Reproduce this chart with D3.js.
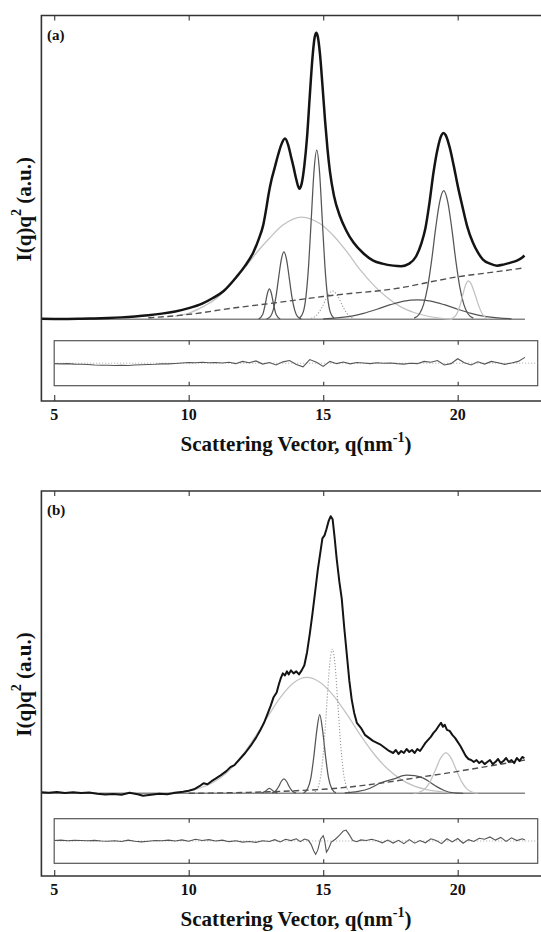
<!DOCTYPE html>
<html>
<head>
<meta charset="utf-8">
<script src="https://cdn.jsdelivr.net/npm/d3@7"></script>
<style>
  body { margin: 0; background: #fff; }
  svg { display: block; }
  text { font-family: "Liberation Serif", "Times New Roman", serif; font-weight: bold; fill: #111; }
</style>
</head>
<body>
<script>
// q axis ticks
const tickValues = [5, 10, 15, 20];
const residTicks = [10, 15, 20];
const panelNames = ["(a)", "(b)"];

// ---- panel (a): measured I(q)q^2 and fitted components, [q, intensity]
const measuredA = [[4.52,0.5],[5,0.4],[5.5,0.4],[6,0.6],[6.5,0.9],[7,1.3],[7.5,1.9],[8,2.8],[8.5,4],[9,5.6],[9.5,7.8],[10,11],[10.5,15.5],[10.9,21],[11.3,28],[11.78,42],[12.1,53],[12.4,66],[12.6,79],[12.77,93],[12.9,112],[12.96,122],[13.08,138],[13.2,150],[13.33,163],[13.45,173],[13.58,178.5],[13.7,172],[13.8,161],[13.9,150],[14,138],[14.11,129],[14.2,134],[14.3,152],[14.4,180],[14.5,220],[14.6,258],[14.68,278],[14.74,283],[14.8,279],[14.88,262],[14.97,232],[15.07,196],[15.16,168],[15.25,146],[15.4,122],[15.62,102],[15.85,88],[16.12,76],[16.5,65],[16.86,58],[17.2,55],[17.6,53],[17.9,52.5],[18.2,55],[18.45,62],[18.65,75],[18.8,90],[18.95,115],[19.1,145],[19.25,168],[19.4,182],[19.47,184],[19.55,182],[19.7,170],[19.85,152],[20,132],[20.17,112],[20.35,92],[20.56,76],[20.75,66],[20.94,59],[21.2,55],[21.46,53],[21.7,54],[21.97,56],[22.2,58],[22.4,61],[22.48,63]];
const backgroundA = [[8.5,1.5],[9.5,3.5],[10.5,6.5],[11.17,9.3],[12,12.3],[13,15.5],[14,19],[15,22.5],[16,25.5],[17,28],[17.86,31],[19,37],[20,42],[21,45.5],[22,49],[22.5,51]];
const broadA = [[9.5,3],[10,6],[10.5,12],[11,20],[11.5,33],[12,48],[12.5,65],[13,80],[13.5,93],[14.2,101],[14.9,94],[15.4,82],[15.9,66],[16.4,48],[16.9,33],[17.4,21],[17.9,12],[18.4,6.5],[18.9,3],[19.4,1],[19.8,0]];
const peakA130 = [[12.6,0.3],[12.75,4.7],[12.85,15.4],[12.93,26],[13,30],[13.07,26],[13.15,15.4],[13.25,4.7],[13.4,0.3]];
const peakA135 = [[12.89,0.3],[13.04,2.9],[13.14,9],[13.24,21.6],[13.34,40.4],[13.44,58.8],[13.54,66.6],[13.64,58.8],[13.74,40.4],[13.84,21.6],[13.94,9],[14.04,2.9],[14.19,0.3]];
const peakA148 = [[14.11,0.8],[14.26,7.3],[14.36,22.6],[14.46,54],[14.56,101],[14.66,147],[14.76,167],[14.86,147],[14.96,101],[15.06,54],[15.16,22.6],[15.26,7.3],[15.41,0.8]];
const dottedA = [[14.55,0.8],[14.75,3.8],[14.95,11.5],[15.15,22.4],[15.35,28],[15.55,22.4],[15.75,11.5],[15.95,3.8],[16.15,0.8]];
const broadA185 = [[15,0.5],[15.5,1.35],[16,3],[16.5,5.9],[17,9.9],[17.5,14.4],[18,18],[18.5,19.3],[19,18],[19.5,14.4],[20,9.9],[20.5,5.9],[21,3],[21.5,1.35],[22,0.5]];
const peakA195 = [[18.38,1.2],[18.58,5.5],[18.73,14.5],[18.88,31.6],[19.03,58],[19.18,89.8],[19.33,116],[19.48,127],[19.63,116],[19.78,89.8],[19.93,58],[20.08,31.6],[20.23,14.5],[20.38,5.5],[20.58,1.2]];
const peakA204 = [[19.75,0.5],[19.9,2.9],[20,7.3],[20.1,15],[20.2,25.2],[20.3,34.3],[20.4,38],[20.5,35],[20.6,28],[20.7,20],[20.8,12],[20.9,6],[21,2.5],[21.15,0.5]];
const residA = [[5,-0.2],[5.25,-0.3],[5.5,-0.2],[5.75,-0.4],[6,-0.5],[6.25,-0.6],[6.5,-0.8],[6.75,-0.9],[7,-0.9],[7.25,-1],[7.5,-0.9],[7.75,-1],[8,-0.8],[8.25,-0.7],[8.5,-0.6],[8.75,-0.5],[9,-0.3],[9.25,-0.3],[9.5,-0.1],[9.75,0.1],[10,0.3],[10.25,0.2],[10.5,0.4],[10.75,0.2],[11,0.3],[11.25,0.1],[11.5,0.4],[11.75,-0.2],[12,0.8],[12.25,0.2],[12.5,1],[12.75,-0.4],[13,0.3],[13.25,-0.8],[13.5,0.6],[13.75,1.2],[14,-0.6],[14.25,-1.6],[14.5,1.6],[14.75,0.4],[15,-1.4],[15.25,0.8],[15.5,-0.2],[15.75,0.5],[16,-0.3],[16.25,0.3],[16.5,0.1],[16.75,-0.2],[17,0.2],[17.25,0],[17.5,0.1],[17.75,-0.2],[18,-0.4],[18.25,0],[18.5,-0.2],[18.75,0.8],[19,0.4],[19.25,1.2],[19.5,-0.8],[19.75,-0.2],[20,2],[20.25,0.2],[20.5,-0.8],[20.75,0.6],[21,-0.4],[21.25,0.8],[21.5,0.2],[21.75,-0.5],[22,0.1],[22.25,0.8],[22.5,2.6]];

// ---- panel (b)
const measuredB = [[4.52,1],[4.8,0.5],[5.1,1.2],[5.4,0.3],[5.7,1],[6,0.2],[6.3,0.8],[6.6,-0.5],[6.9,-1.2],[7.2,-0.8],[7.5,-1.5],[7.8,0.5],[8.1,-1],[8.3,-2.5],[8.6,-1.5],[8.9,-0.5],[9.2,-1],[9.5,0.5],[9.8,1.5],[10,2.5],[10.2,4],[10.4,7],[10.55,10],[10.7,9],[10.85,12],[11,14.5],[11.2,18],[11.4,22],[11.55,26],[11.7,28],[11.9,34],[12.1,40],[12.3,47],[12.5,55],[12.65,62],[12.8,70],[12.95,80],[13.05,87],[13.15,95],[13.27,100],[13.35,108],[13.42,114],[13.5,119],[13.58,117],[13.65,121],[13.72,118],[13.8,122],[13.9,119],[14,121],[14.1,118],[14.2,122],[14.3,127],[14.4,140],[14.5,158],[14.6,178],[14.7,200],[14.8,222],[14.9,240],[14.97,253],[15.05,256],[15.12,262],[15.2,270],[15.28,275],[15.35,272],[15.42,255],[15.5,233],[15.6,210],[15.69,193],[15.78,165],[15.87,140],[15.97,112],[16.06,93],[16.15,80],[16.25,70],[16.4,65],[16.55,58],[16.7,55],[16.85,52],[17,50],[17.15,48],[17.3,45],[17.45,42],[17.6,40],[17.7,43],[17.8,39],[17.9,42],[18,40],[18.1,44],[18.2,41],[18.3,43],[18.4,40],[18.5,44],[18.6,42],[18.7,46],[18.8,50],[18.9,53],[19,56],[19.1,60],[19.2,63],[19.3,67],[19.38,70],[19.45,66],[19.52,68],[19.6,63],[19.7,62],[19.8,58],[19.9,55],[20,51],[20.1,47],[20.2,42],[20.3,37],[20.4,34],[20.5,33],[20.6,31],[20.7,33],[20.8,30],[20.9,32],[21,29],[21.1,31],[21.2,33],[21.3,29],[21.4,31],[21.5,34],[21.6,30],[21.7,32],[21.8,35],[21.9,31],[22,33],[22.1,30],[22.2,35],[22.3,32],[22.4,36],[22.48,35]];
const backgroundB = [[10,0],[11,0.3],[12,0.8],[13,1.5],[14,2.6],[15,4],[16,6.3],[17.1,10],[18,13.5],[18.6,16],[19.6,20],[20.5,24],[21.5,28.5],[22.5,33]];
const broadB = [[9.39,0.9],[9.89,2.2],[10.39,5],[10.89,10.5],[11.39,19.8],[11.89,34],[12.39,52.7],[12.89,74],[13.39,94.5],[13.89,109.5],[14.39,115],[14.89,110],[15.39,96.7],[15.89,78],[16.39,57.5],[16.89,39],[17.39,24.3],[17.89,13.8],[18.39,7.2],[18.89,3.5],[19.39,1.5],[19.9,0]];
const peakB130 = [[12.7,0.2],[12.85,2],[13,5],[13.15,2],[13.3,0.2]];
const peakB135 = [[13.09,0.3],[13.24,2.5],[13.34,6.5],[13.44,11.7],[13.54,14.3],[13.64,11.7],[13.74,6.5],[13.84,2.5],[13.99,0.3]];
const peakB149 = [[14.27,0.4],[14.42,4.5],[14.54,15],[14.65,36],[14.76,62],[14.87,78],[14.98,62],[15.09,36],[15.2,15],[15.32,4.5],[15.47,0.4]];
const dottedB = [[14.59,0.2],[14.74,2.4],[14.84,8.4],[14.94,23.3],[15.04,51.5],[15.14,90.8],[15.24,127.7],[15.34,143],[15.44,127.7],[15.54,90.8],[15.64,51.5],[15.74,23.3],[15.84,8.4],[15.94,2.4],[16.09,0.2]];
const broadB181 = [[15.8,0.3],[16.3,1.8],[16.74,5],[17.1,10],[17.6,14],[18.1,18],[18.4,17.5],[18.72,15],[19,10.5],[19.22,6.6],[19.5,2.8],[19.78,0.6],[20.2,0]];
const peakB196 = [[18.36,0.2],[18.56,1],[18.76,3.9],[18.96,10.8],[19.16,22.3],[19.36,34.6],[19.56,40],[19.76,34.6],[19.96,22.3],[20.16,10.8],[20.36,3.9],[20.56,1],[20.76,0.2]];
const residB = [[5,0.2],[5.25,0.4],[5.5,0.1],[5.75,0.3],[6,0.2],[6.25,0.1],[6.5,0.3],[6.75,0],[7,-0.1],[7.25,0.1],[7.5,-0.2],[7.75,0.4],[8,-0.1],[8.25,-0.4],[8.5,-0.1],[8.75,0.2],[9,0.1],[9.25,0.4],[9.5,0],[9.75,0.5],[10,-0.1],[10.25,0.8],[10.5,0.2],[10.75,0.6],[11,0],[11.25,0.4],[11.5,-0.3],[11.75,0.1],[12,-0.5],[12.25,-0.2],[12.5,-0.6],[12.75,0.1],[13,-0.2],[13.2,0.6],[13.4,-0.4],[13.6,0.8],[13.8,0.2],[14,1],[14.15,-0.3],[14.3,0.9],[14.45,0.3],[14.55,-1.5],[14.65,-4.5],[14.72,-6],[14.8,-4],[14.9,0.8],[15,2.4],[15.05,0.5],[15.12,-5],[15.2,-3.5],[15.3,-0.5],[15.45,0.8],[15.6,2.5],[15.75,4.5],[15.85,4.9],[15.95,3.2],[16.1,0.2],[16.25,-0.3],[16.4,0.5],[16.6,0.2],[16.8,0.8],[17,0.1],[17.2,-0.8],[17.4,0.4],[17.6,-0.9],[17.8,0.3],[18,-1.2],[18.2,0.6],[18.4,-1],[18.6,0.2],[18.8,-0.8],[19,1],[19.2,0.2],[19.4,-1.2],[19.6,1],[19.8,-0.4],[20,1.1],[20.2,-1],[20.4,0.6],[20.6,-0.2],[20.8,1.2],[21,0.8],[21.2,1.8],[21.4,0.4],[21.6,1.6],[21.8,-0.2],[22,1.4],[22.2,0.2],[22.4,1],[22.5,0.4]];

const width = 541, height = 932;
const svg = d3.select("body").append("svg").attr("width", width).attr("height", height);

const x = d3.scaleLinear().domain([5, 20]).range([54.2, 457.7]);
const frameLeft = 41.4, frameRight = 570, residRight = 537.7;

const styles = {
  dark:   { stroke: "#555", width: 1.25, dash: null },
  light:  { stroke: "#c2c2c2", width: 1.25, dash: null },
  dotted: { stroke: "#999", width: 1.1, dash: "1.2,1.8" },
  back:   { stroke: "#505050", width: 1.4, dash: "6,3.5" }
};

const panels = [
  { name: panelNames[0], top: 15.5, base: 319.3, rTop: 340.7, rBot: 385.7, bottom: 401,
    measured: measuredA, smooth: true, resid: residA,
    comps: [[broadA, "light"], [peakA130, "dark"], [peakA135, "dark"], [peakA148, "dark"],
            [dottedA, "dotted"], [broadA185, "dark"], [peakA195, "dark"], [peakA204, "light"],
            [backgroundA, "back"]] },
  { name: panelNames[1], top: 491, base: 793.3, rTop: 818.7, rBot: 863.3, bottom: 876,
    measured: measuredB, smooth: false, resid: residB,
    comps: [[broadB, "light"], [peakB130, "dark"], [peakB135, "dark"], [peakB149, "dark"],
            [dottedB, "dotted"], [broadB181, "dark"], [peakB196, "light"],
            [backgroundB, "back"]] }
];

panels.forEach(p => {
  const g = svg.append("g");
  const y = d3.scaleLinear().domain([0, 300]).range([p.base, p.top]);
  const yr = d3.scaleLinear().domain([-10, 10]).range([p.rBot, p.rTop]);

  const line = d3.line().x(d => x(d[0])).y(d => y(d[1])).curve(d3.curveMonotoneX);

  // zero line of the fit
  g.append("line")
    .attr("x1", frameLeft).attr("x2", x(22.5))
    .attr("y1", y(0)).attr("y2", y(0))
    .attr("stroke", "#858585").attr("stroke-width", 1.4);

  p.comps.forEach(([pts, key]) => {
    const s = styles[key];
    g.append("path").datum(pts)
      .attr("d", line)
      .attr("fill", "none")
      .attr("stroke", s.stroke)
      .attr("stroke-width", s.width)
      .attr("stroke-dasharray", s.dash);
  });

  // measured curve
  g.append("path").datum(p.measured)
    .attr("d", line.curve(p.smooth ? d3.curveMonotoneX : d3.curveLinear))
    .attr("fill", "none")
    .attr("stroke", "#141414")
    .attr("stroke-width", p.smooth ? 2.5 : 2)
    .attr("stroke-linejoin", "round");

  // residual box
  g.append("rect")
    .attr("x", x(5)).attr("y", p.rTop)
    .attr("width", residRight - x(5)).attr("height", p.rBot - p.rTop)
    .attr("fill", "none").attr("stroke", "#555").attr("stroke-width", 1.2);
  g.append("line")
    .attr("x1", x(5)).attr("x2", residRight)
    .attr("y1", yr(0)).attr("y2", yr(0))
    .attr("stroke", "#aaa").attr("stroke-width", 1).attr("stroke-dasharray", "1,2");
  g.append("path").datum(p.resid)
    .attr("d", d3.line().x(d => x(d[0])).y(d => yr(d[1])))
    .attr("fill", "none").attr("stroke", "#555").attr("stroke-width", 1.1);

  const tickAxis = (axis, ty, values, size) => {
    const a = g.append("g").attr("transform", `translate(0,${ty})`)
      .call(axis(x).tickValues(values).tickSize(size).tickFormat(""));
    a.select(".domain").remove();
    a.selectAll(".tick line").attr("stroke", "#444").attr("stroke-width", 1.2);
  };
  tickAxis(d3.axisBottom, p.rTop, residTicks, 4);
  tickAxis(d3.axisTop, p.rBot, residTicks, 4);
  tickAxis(d3.axisBottom, p.top, tickValues, 5);
  tickAxis(d3.axisTop, p.bottom, tickValues, 6);

  // outer frame (right side runs off the page)
  g.append("path")
    .attr("d", `M${frameRight},${p.top}H${frameLeft}V${p.bottom}H${frameRight}`)
    .attr("fill", "none").attr("stroke", "#333").attr("stroke-width", 1.6);

  // tick labels
  g.selectAll("text.tl").data(tickValues).enter().append("text")
    .attr("class", "tl")
    .attr("x", d => x(d)).attr("y", p.bottom + 19)
    .attr("text-anchor", "middle")
    .style("font-size", "16px")
    .text(d => d);

  // x title
  const xt = g.append("text")
    .attr("x", 296).attr("y", p.bottom + 50)
    .attr("text-anchor", "middle")
    .style("font-size", "21px");
  xt.append("tspan").text("Scattering Vector, q(nm");
  xt.append("tspan").attr("dy", -9).style("font-size", "14px").text("-1");
  xt.append("tspan").attr("dy", 9).text(")");

  // y title
  const yt = g.append("text")
    .attr("transform", `translate(31,${(p.top + p.bottom) / 2 + 1}) rotate(-90)`)
    .attr("text-anchor", "middle")
    .style("font-size", "21px");
  yt.append("tspan").text("I(q)q");
  yt.append("tspan").attr("dy", -10).style("font-size", "14px").text("2");
  yt.append("tspan").attr("dy", 10).text(" (a.u.)");

  // panel letter
  g.append("text")
    .attr("x", 47).attr("y", p.top + 24)
    .style("font-size", "15px")
    .text(p.name);
});
</script>
</body>
</html>
